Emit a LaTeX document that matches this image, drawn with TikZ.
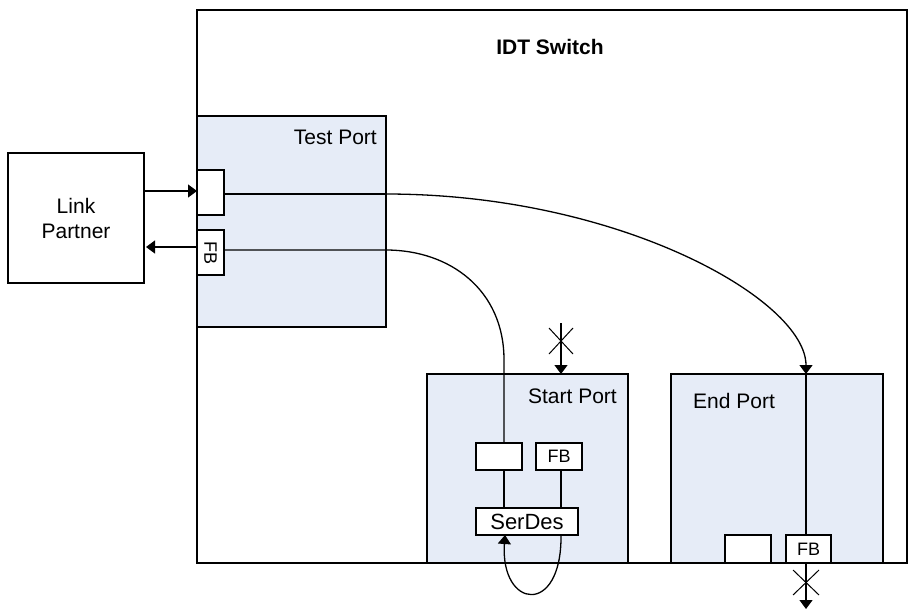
\documentclass[tikz,border=0pt]{standalone}
\usepackage{fontspec}
\setmainfont{Liberation Sans}
\usetikzlibrary{arrows.meta}
\definecolor{portfill}{RGB}{230,236,247}
\tikzset{
  box/.style={draw=black, line width=1.3pt, anchor=north west, inner sep=0pt, outer sep=0pt},
  portbox/.style={box, fill=portfill},
  smallbox/.style={box, fill=white},
  lbl/.style={font=\fontsize{21}{24}\selectfont, inner sep=0pt},
  fbl/.style={font=\fontsize{18}{20}\selectfont, inner sep=0pt},
  conn/.style={draw=black, line width=1.3pt},
  arr/.style={conn, -{Triangle[width=13pt,length=9pt]}},
  xmark/.style={draw=black, line width=1pt}
}
\begin{document}
\begin{tikzpicture}[x=1pt,y=-1pt]
\useasboundingbox (0,0) rectangle (909,611);
% outer switch
\node[box, minimum width=710, minimum height=553] (switch) at (197,10) {};
\node[lbl, font=\fontsize{21}{24}\selectfont\bfseries] (title) at (550,47) {IDT Switch};
% link partner
\node[box, minimum width=136, minimum height=130, align=center, font=\fontsize{21}{25}\selectfont] (link) at (8,153) {Link\\Partner};
% test port
\node[portbox, minimum width=189, minimum height=211] (test) at (197,116) {};
\node[lbl, anchor=east] (testlbl) at (377,137) {Test Port};
% start port
\node[portbox, minimum width=201, minimum height=189] (start) at (427,374) {};
\node[lbl, anchor=east] (startlbl) at (617,396) {Start Port};
% end port
\node[portbox, minimum width=212, minimum height=189] (endp) at (671,374) {};
\node[lbl, anchor=west] (endlbl) at (693,401) {End Port};
% named coordinates
\coordinate (tbend1) at (386,194);
\coordinate (tbend2) at (386,250);
\coordinate (ex) at (806,0);
\coordinate (fx) at (561,0);
\coordinate (xtop) at (561,323);
\coordinate (ebot) at (806,609);
% connectors (drawn beneath small boxes)
\draw[arr] (tbend1) .. controls (620,194) and (806,300) .. (endp.north -| ex);
\draw[conn] (224,194) -- (tbend1);
\draw[conn] (224,250) -- (tbend2) .. controls (450,250) and (504,290) .. (504,360) -- (504,443);
\draw[conn] (ex |- endp.north) -- (806,535);
\draw[conn] (504,470) -- (504,508);
\draw[conn] (561,470) -- (561,508);
\draw[arr] (561,535) .. controls (562,617) and (500,609) .. (505,535);
\draw[arr] (xtop) -- (start.north -| fx);
\draw[xmark] (549,328) -- (573,354) (549,354) -- (573,328);
\draw[arr] (806,563) -- (ebot);
\draw[xmark] (793,570) -- (819,595) (793,595) -- (819,570);
% small boxes
\node[smallbox, minimum width=27, minimum height=45] (tin) at (197,170) {};
\node[smallbox, minimum width=27, minimum height=45] (tfb) at (197,230) {};
\node[fbl, rotate=-90] (tfblbl) at (tfb.center) {FB};
\node[smallbox, minimum width=46, minimum height=27] (sw) at (476,443) {};
\node[smallbox, minimum width=46, minimum height=27] (sfb) at (536,443) {};
\node[fbl] (sfblbl) at (sfb.center) {FB};
\node[smallbox, minimum width=102, minimum height=27] (serdes) at (476,508) {};
\node[font=\fontsize{22}{24}\selectfont, inner sep=0pt] (serdeslbl) at (serdes.center) {SerDes};
\node[smallbox, minimum width=46, minimum height=28] (ew) at (725,535) {};
\node[smallbox, minimum width=45, minimum height=28] (efb) at (786,535) {};
\node[fbl] (efblbl) at (efb.center) {FB};
% link arrows
\draw[arr] (link.east |- 0,191) -- (tin.west |- 0,191);
\draw[arr] (tfb.west |- 0,247) -- ([xshift=2]link.east |- 0,247);
\end{tikzpicture}
\end{document}
